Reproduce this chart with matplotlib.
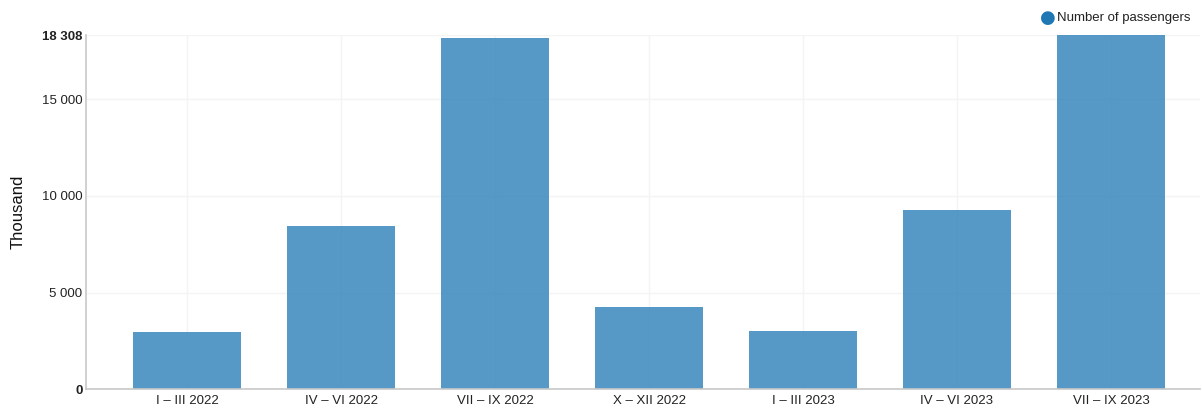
import matplotlib.pyplot as plt
import numpy as np

plt.rcParams['font.family'] = ['Liberation Sans', 'DejaVu Sans']

periods = ['I – III 2022', 'IV – VI 2022', 'VII – IX 2022', 'X – XII 2022',
           'I – III 2023', 'IV – VI 2023', 'VII – IX 2023']
passengers = [2960, 8440, 18150, 4250, 3010, 9265, 18308]
yticks = [0, 5000, 10000, 15000, 18308]
series_name = 'Number of passengers'

fig = plt.figure(figsize=(12.02, 4.08), dpi=100)
ax = fig.add_axes([86/1202, 1 - 389.3/408, (1200-86)/1202, (389.3-35)/408])

x = np.arange(len(periods))
ax.bar(x, passengers, width=0.70, color='#1f77b4', alpha=0.75, zorder=2)

ax.set_xlim(-0.656, 6.578)
ax.set_ylim(0, max(yticks))
ax.set_xticks(x)
ax.set_xticklabels(periods, fontsize=9.5, color='#222222')
ax.set_yticks(yticks)
ax.set_yticklabels([f'{v:,}'.replace(',', ' ') for v in yticks], fontsize=9.5, color='#222222')
for lbl in ax.get_yticklabels():
    if lbl.get_text() in ('0', '18 308'):
        lbl.set_fontweight('bold')
ax.tick_params(axis='y', length=0, pad=2.5)
ax.tick_params(axis='x', length=0, pad=4)

ax.grid(True, color='#f4f4f4', linewidth=1, zorder=0)
for s in ['top', 'right']:
    ax.spines[s].set_visible(False)
for s in ['left', 'bottom']:
    ax.spines[s].set_color('#c8c8c8')
    ax.spines[s].set_linewidth(1.2)

# axis title
fig.text(18/1202, 1 - 212/408, 'Thousand', fontsize=12, rotation=90,
         ha='center', va='center', color='#111111')

# legend
fig.text(1048/1202, 1 - 18/408, '●', fontsize=13, color='#1f77b4', ha='center', va='center',
         family='DejaVu Sans')
fig.text(1057/1202, 1 - 18/408, series_name, fontsize=9.5, color='#222222', ha='left', va='center')

fig.savefig('out.png', dpi=100)
